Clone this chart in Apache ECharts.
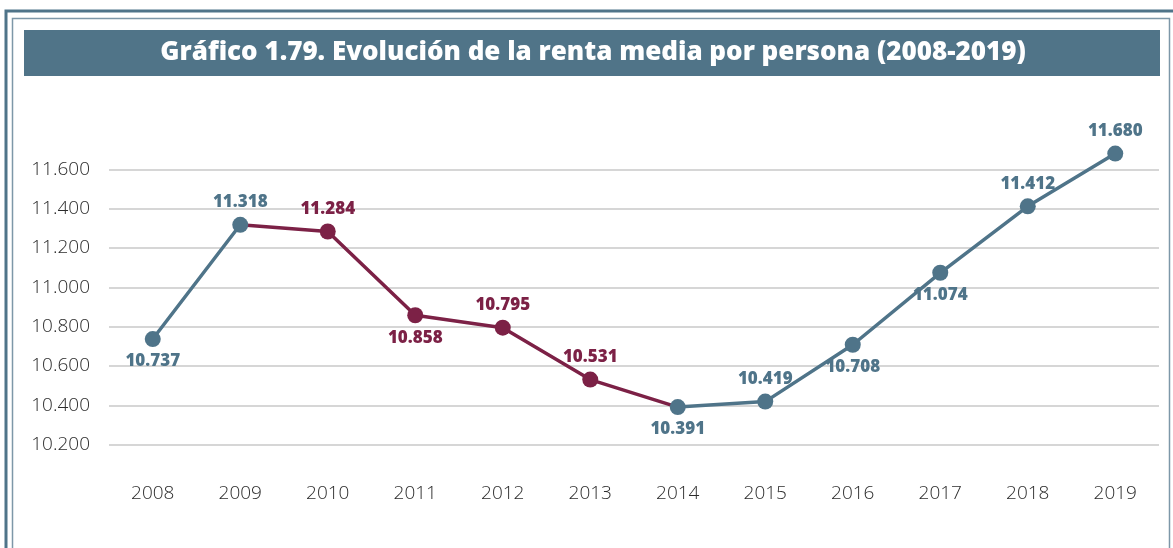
<!DOCTYPE html>
<html>
<head>
<meta charset="utf-8">
<script src="https://cdn.jsdelivr.net/npm/echarts@6/dist/echarts.min.js"></script>
<style>
  html, body { margin: 0; padding: 0; background: #ffffff; }
  #chart { width: 1173px; height: 548px; }
</style>
</head>
<body>
<div id="chart"></div>
<script>
// Renta media por persona (euros), 2008-2019
const years = ['2008', '2009', '2010', '2011', '2012', '2013', '2014', '2015', '2016', '2017', '2018', '2019'];
const renta = [10737, 11318, 11284, 10858, 10795, 10531, 10391, 10419, 10708, 11074, 11412, 11680];
// Years drawn in the crisis colour (points and labels)
const crisisYears = ['2010', '2011', '2012', '2013'];
// Where each value label sits relative to its point
const labelPos = ['bottom', 'top', 'top', 'bottom', 'top', 'top', 'bottom', 'top', 'bottom', 'bottom', 'top', 'top'];
const yTicks = [10200, 10400, 10600, 10800, 11000, 11200, 11400, 11600];

const BLUE = '#4f7489';
const MAROON = '#7c2146';
const FONT = '"Open Sans", Lato, sans-serif';

const fmt = v => {
  const s = String(Math.round(v));
  return s.length > 3 ? s.slice(0, s.length - 3) + '.' + s.slice(-3) : s;
};

// Blue line: before and after the crisis stretch
const blueData = years.map((y, i) => {
  const inCrisis = crisisYears.includes(y);
  return inCrisis ? null : {
    value: renta[i],
    label: { position: labelPos[i] }
  };
});

// Maroon line: from 2009 through 2014, with its own markers only on the crisis years
const first = years.indexOf(crisisYears[0]) - 1;
const last = years.indexOf(crisisYears[crisisYears.length - 1]) + 1;
const maroonData = years.map((y, i) => {
  if (i < first || i > last) return null;
  const own = crisisYears.includes(y);
  return {
    value: renta[i],
    symbolSize: own ? 16 : 0,
    label: { show: own, position: labelPos[i] }
  };
});

const chart = echarts.init(document.getElementById('chart'), null, { renderer: 'canvas' });

const labelStyle = color => ({
  show: true,
  color: color,
  fontFamily: FONT,
  fontWeight: 800,
  fontSize: 17,
  distance: 6,
  formatter: p => fmt(p.value)
});

chart.setOption({
  animation: false,
  backgroundColor: '#ffffff',
  graphic: [
    // frame
    { type: 'rect', shape: { x: 6, y: 11, width: 1180, height: 560 }, style: { fill: 'none', stroke: BLUE, lineWidth: 3 }, silent: true },
    { type: 'rect', shape: { x: 12.5, y: 18.5, width: 1157, height: 560 }, style: { fill: 'none', stroke: '#7d97a8', lineWidth: 1.5 }, silent: true },
    // title band
    { type: 'rect', shape: { x: 24, y: 30, width: 1136, height: 46 }, style: { fill: '#507488' }, silent: true, z: 1 },
    {
      type: 'text', x: 593, y: 53, z: 2,
      style: {
        text: 'Gráfico 1.79. Evolución de la renta media por persona (2008-2019)',
        fill: '#ffffff', font: '800 26px "Open Sans", Lato, sans-serif',
        textAlign: 'center', textVerticalAlign: 'middle'
      }
    }
  ],
  grid: { left: 109, right: 14, top: 130, bottom: 64, containLabel: false },
  xAxis: {
    type: 'category',
    data: years,
    boundaryGap: true,
    axisLine: { show: false },
    axisTick: { show: false },
    axisLabel: { color: '#2b2b2b', fontFamily: FONT, fontWeight: 300, fontSize: 19, margin: 0 }
  },
  yAxis: {
    type: 'value',
    min: 10000,
    max: 11800,
    interval: 200,
    axisLine: { show: false },
    axisTick: { show: false },
    axisLabel: {
      color: '#2b2b2b', fontFamily: FONT, fontWeight: 300, fontSize: 19, margin: 19,
      formatter: v => (yTicks.includes(v) ? fmt(v) : '')
    },
    splitLine: { show: true, showMinLine: false, showMaxLine: false, lineStyle: { color: '#c8c8c8', width: 1.5 } }
  },
  series: [
    {
      type: 'line',
      data: maroonData,
      connectNulls: false,
      symbol: 'circle',
      symbolSize: 16,
      lineStyle: { color: MAROON, width: 3.5 },
      itemStyle: { color: MAROON },
      label: labelStyle(MAROON),
      z: 2
    },
    {
      type: 'line',
      data: blueData,
      connectNulls: false,
      symbol: 'circle',
      symbolSize: 16,
      lineStyle: { color: BLUE, width: 3.5 },
      itemStyle: { color: BLUE },
      label: labelStyle(BLUE),
      z: 3
    }
  ]
});
</script>
</body>
</html>
